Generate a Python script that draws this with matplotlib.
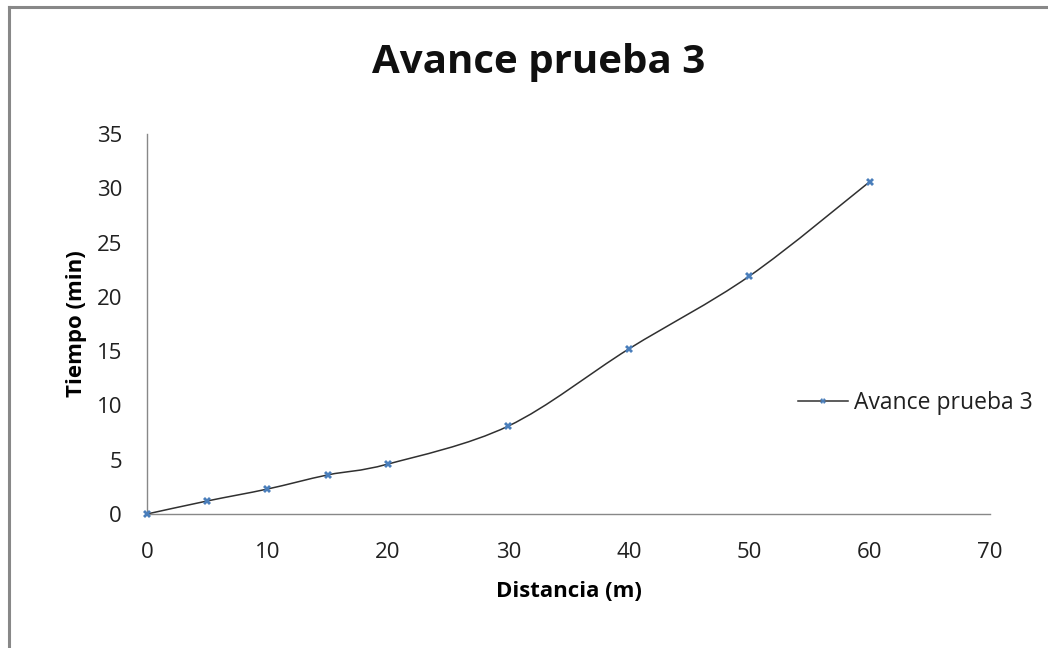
from matplotlib import pyplot as plt
from matplotlib.path import Path
from matplotlib.patches import PathPatch
from matplotlib.lines import Line2D
import numpy as np

distancia = [0, 5, 10, 15, 20, 30, 40, 50, 60]
tiempo = [0, 1.2, 2.3, 3.6, 4.6, 8.1, 15.2, 21.9, 30.6]
serie = "Avance prueba 3"

plt.rcParams['font.family'] = ['Open Sans', 'DejaVu Sans']

fig = plt.figure(figsize=(10.48, 6.48), dpi=100)
ax = fig.add_axes([0.1403, 0.2068, 0.8044, 0.5864])

# smooth line like excel (bezier through the points)
pts = np.column_stack([distancia, tiempo]).astype(float)
ext = np.vstack([pts[0], pts, pts[-1]])
verts = [tuple(pts[0])]
codes = [Path.MOVETO]
for i in range(len(pts) - 1):
    p0, p1, p2, p3 = ext[i], ext[i + 1], ext[i + 2], ext[i + 3]
    c1 = p1 + (p2 - p0) / 6
    c2 = p2 - (p3 - p1) / 6
    verts += [tuple(c1), tuple(c2), tuple(p2)]
    codes += [Path.CURVE4] * 3
ax.add_patch(PathPatch(Path(verts, codes), facecolor='none', edgecolor='#303030', lw=1.1, zorder=2))
ax.plot(distancia, tiempo, ls='none', marker='X', markersize=6, color='#4A7EBB',
        markeredgewidth=0, zorder=3, clip_on=False)

ax.set_xlim(0, 70)
ax.set_ylim(0, 35)
ax.set_xticks(range(0, 71, 10))
ax.set_yticks(range(0, 36, 5))
ax.tick_params(length=0, labelsize=16, colors='#202020')
ax.tick_params(axis='x', pad=20)
ax.tick_params(axis='y', pad=18)
for s in ['top', 'right']:
    ax.spines[s].set_visible(False)
for s in ['left', 'bottom']:
    ax.spines[s].set_color('#888888')
    ax.spines[s].set_linewidth(1.0)

ax.set_xlabel('Distancia (m)', fontsize=16, fontweight='bold', labelpad=13)
ax.set_ylabel('Tiempo (min)', fontsize=16, fontweight='bold', labelpad=7)
fig.text(0.514, 0.903, serie, ha='center', va='center', fontsize=29, fontweight='bold', color='#101010')

h = Line2D([], [], color='#303030', lw=1.1, marker='X', markersize=4, markerfacecolor='#4A7EBB',
           markeredgewidth=0)
fig.legend([h], [serie], loc='center left', bbox_to_anchor=(0.7615, 0.378), frameon=False,
           fontsize=16.5, handlelength=2.2, handletextpad=0.26, borderpad=0, borderaxespad=0,
           labelcolor='#202020')

# chart border (cut off on right and bottom)
fig.add_artist(Line2D([9 / 1048, 1], [1 - 7 / 648, 1 - 7 / 648], color='#888888', lw=2.2))
fig.add_artist(Line2D([9 / 1048, 9 / 1048], [0, 1 - 7 / 648], color='#888888', lw=2.2))

fig.savefig('out.png', dpi=100)
